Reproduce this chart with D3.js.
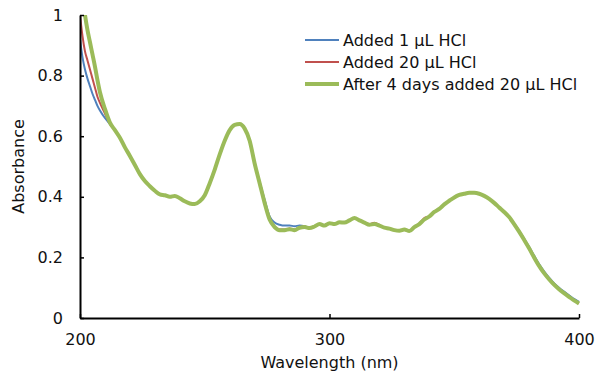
<!DOCTYPE html>
<html>
<head>
<meta charset="utf-8">
<script src="https://cdn.jsdelivr.net/npm/d3@7"></script>
<style>
  body { margin: 0; background: #fff; }
  svg text { font-family: "DejaVu Sans", sans-serif; fill: #111; }
</style>
</head>
<body>
<div id="chart"></div>
<script>
// wavelength (nm)
const wavelengths = [200, 201, 202, 203, 204, 205, 206, 207, 208, 210, 212, 214, 216, 218, 220, 222, 224, 226, 228, 230,
  232, 234, 236, 238, 240, 242, 244, 246, 248, 250, 252, 254, 256, 258, 260, 262, 264, 266, 268, 270,
  272, 274, 276, 278, 280, 282, 284, 286, 288, 290, 292, 294, 296, 298, 300, 302, 304, 306, 308, 310,
  312, 314, 316, 318, 320, 322, 324, 326, 328, 330, 332, 334, 336, 338, 340, 342, 344, 346, 348, 350,
  352, 354, 356, 358, 360, 362, 364, 366, 368, 370, 372, 374, 376, 378, 380, 382, 384, 386, 388, 390,
  392, 394, 396, 398, 400]

const added1 = [0.92, 0.86, 0.82, 0.79, 0.765, 0.74, 0.72, 0.70, 0.685, 0.66, 0.64, 0.62, 0.595, 0.563, 0.535, 0.505, 0.475, 0.452, 0.435, 0.42,
  0.408, 0.405, 0.40, 0.403, 0.395, 0.385, 0.378, 0.376, 0.385, 0.405, 0.445, 0.49, 0.54, 0.585, 0.62, 0.637, 0.64, 0.625, 0.585, 0.51,
  0.45, 0.39, 0.335, 0.315, 0.308, 0.305, 0.305, 0.303, 0.305, 0.303, 0.298, 0.302, 0.31, 0.305, 0.313, 0.31, 0.316, 0.315, 0.322, 0.33,
  0.322, 0.315, 0.308, 0.31, 0.305, 0.298, 0.295, 0.29, 0.288, 0.292, 0.287, 0.30, 0.31, 0.325, 0.335, 0.35, 0.36, 0.375, 0.387, 0.398,
  0.406, 0.41, 0.413, 0.413, 0.41, 0.403, 0.393, 0.38, 0.365, 0.35, 0.333, 0.312, 0.288, 0.262, 0.235, 0.206, 0.178, 0.154, 0.133, 0.115,
  0.1, 0.087, 0.075, 0.063, 0.053]

const added20 = [1.0, 0.93, 0.88, 0.85, 0.82, 0.79, 0.76, 0.73, 0.71, 0.675, 0.64, 0.62, 0.595, 0.563, 0.535, 0.505, 0.475, 0.452, 0.435, 0.42,
  0.408, 0.405, 0.40, 0.403, 0.395, 0.385, 0.378, 0.376, 0.385, 0.405, 0.445, 0.49, 0.54, 0.585, 0.62, 0.637, 0.64, 0.625, 0.585, 0.51,
  0.445, 0.38, 0.327, 0.302, 0.292, 0.292, 0.295, 0.292, 0.3, 0.302, 0.298, 0.302, 0.31, 0.305, 0.313, 0.31, 0.316, 0.315, 0.322, 0.33,
  0.322, 0.315, 0.31, 0.314, 0.307, 0.298, 0.295, 0.29, 0.288, 0.292, 0.287, 0.30, 0.312, 0.33, 0.335, 0.35, 0.36, 0.375, 0.387, 0.398,
  0.406, 0.41, 0.413, 0.413, 0.41, 0.403, 0.393, 0.38, 0.365, 0.35, 0.333, 0.31, 0.285, 0.258, 0.23, 0.2, 0.172, 0.148, 0.128, 0.11,
  0.095, 0.082, 0.07, 0.058, 0.048]

const after4days = [1.12, 1.06, 1.0, 0.95, 0.91, 0.87, 0.83, 0.785, 0.745, 0.69, 0.645, 0.62, 0.595, 0.563, 0.535, 0.505, 0.475, 0.452, 0.435, 0.42,
  0.408, 0.405, 0.40, 0.403, 0.395, 0.385, 0.378, 0.376, 0.385, 0.405, 0.445, 0.49, 0.54, 0.585, 0.62, 0.637, 0.64, 0.625, 0.585, 0.51,
  0.445, 0.38, 0.325, 0.30, 0.29, 0.29, 0.293, 0.29, 0.298, 0.30, 0.297, 0.302, 0.31, 0.305, 0.313, 0.31, 0.316, 0.315, 0.322, 0.33,
  0.322, 0.315, 0.308, 0.31, 0.305, 0.298, 0.295, 0.29, 0.288, 0.292, 0.287, 0.30, 0.31, 0.325, 0.335, 0.35, 0.36, 0.375, 0.387, 0.398,
  0.406, 0.41, 0.413, 0.413, 0.41, 0.403, 0.393, 0.38, 0.365, 0.35, 0.333, 0.31, 0.285, 0.258, 0.23, 0.2, 0.172, 0.148, 0.128, 0.11,
  0.095, 0.082, 0.07, 0.058, 0.048]

const seriesNames = ["Added 1 μL HCl", "Added 20 μL HCl", "After 4 days added 20 μL HCl"]
const xTicks = [200, 300, 400]
const yTicks = [0, 0.2, 0.4, 0.6, 0.8, 1]

const WIDTH = 595
const HEIGHT = 378
const margin = {top: 15, right: 16, bottom: 60, left: 80}

const series = [
  {name: seriesNames[0], values: added1, color: "#4f81bd", width: 2},
  {name: seriesNames[1], values: added20, color: "#c0504d", width: 2},
  {name: seriesNames[2], values: after4days, color: "#9bbb59", width: 4}
]

const svg = d3.select("#chart").append("svg")
  .attr("width", WIDTH)
  .attr("height", HEIGHT)

const x = d3.scaleLinear().domain([200, 400]).range([margin.left, WIDTH - margin.right])
const y = d3.scaleLinear().domain([0, 1]).range([HEIGHT - margin.bottom, margin.top])

svg.append("clipPath").attr("id", "plot")
  .append("rect")
  .attr("x", margin.left).attr("y", margin.top)
  .attr("width", x(400) - margin.left + 2)
  .attr("height", y(0) - margin.top)

const line = d3.line()
  .x((d, i) => x(wavelengths[i]))
  .y(d => y(d))
  .curve(d3.curveMonotoneX)

svg.append("g").attr("clip-path", "url(#plot)")
  .selectAll("path")
  .data(series)
  .enter().append("path")
  .attr("d", d => line(d.values))
  .attr("fill", "none")
  .attr("stroke", d => d.color)
  .attr("stroke-width", d => d.width)
  .attr("stroke-linejoin", "round")

// axes, ticks pointing inward
const xAxis = svg.append("g")
  .attr("transform", `translate(0,${y(0)})`)
  .call(d3.axisBottom(x).tickValues(xTicks).tickFormat(d3.format("d")).tickSizeInner(-4).tickSizeOuter(0).tickPadding(16))
const yAxis = svg.append("g")
  .attr("transform", `translate(${margin.left},0)`)
  .call(d3.axisLeft(y).tickValues(yTicks).tickFormat(d => d).tickSizeInner(-4).tickSizeOuter(0).tickPadding(17))

for (const ax of [xAxis, yAxis]) {
  ax.select(".domain").attr("stroke", "#000").attr("stroke-width", 2)
  ax.selectAll(".tick line").attr("stroke", "#000").attr("stroke-width", 1.5)
  ax.selectAll(".tick text").attr("font-size", 16).attr("fill", "#111")
    .style("font-family", "'DejaVu Sans', sans-serif")
}

svg.append("text")
  .attr("x", (x(200) + x(400)) / 2)
  .attr("y", 368)
  .attr("text-anchor", "middle")
  .attr("font-size", 16)
  .text("Wavelength (nm)")

svg.append("text")
  .attr("transform", `translate(24,${(y(0) + y(1)) / 2}) rotate(-90)`)
  .attr("text-anchor", "middle")
  .attr("font-size", 16)
  .text("Absorbance")

// legend
const legend = svg.append("g").attr("transform", "translate(305,40)")
const rows = legend.selectAll("g").data(series).enter().append("g")
  .attr("transform", (d, i) => `translate(0,${i * 22})`)
rows.append("line")
  .attr("x1", 0).attr("x2", 34)
  .attr("stroke", d => d.color)
  .attr("stroke-width", d => d.width)
rows.append("text")
  .attr("x", 38)
  .attr("dy", "0.35em")
  .attr("font-size", 16)
  .text(d => d.name)
</script>
</body>
</html>
